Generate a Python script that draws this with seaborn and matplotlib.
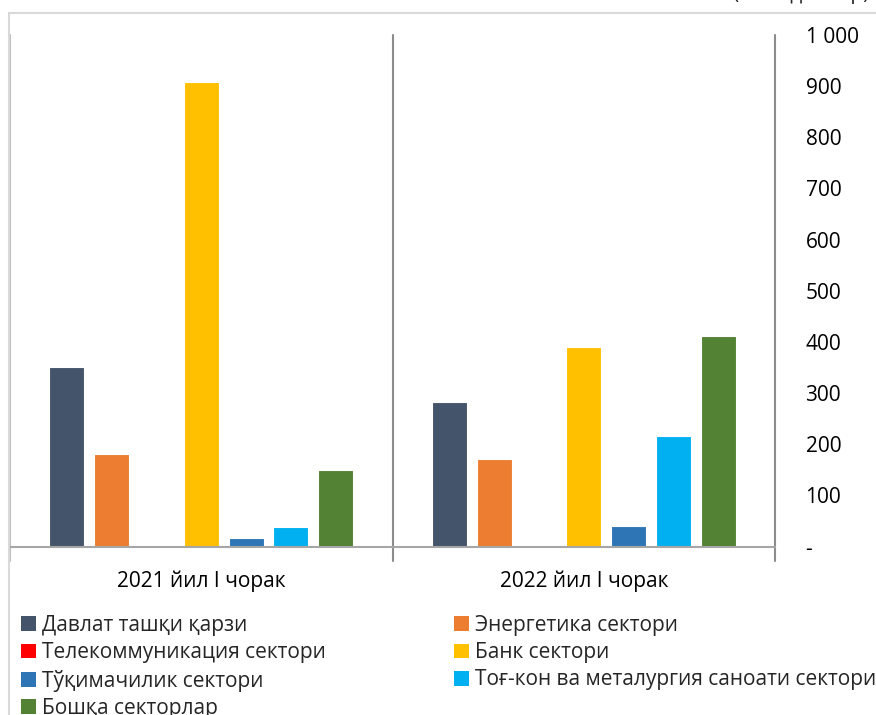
import pandas as pd
import seaborn as sns
import matplotlib.pyplot as plt
from matplotlib.patches import Patch, Rectangle

# data (млн. доллар)
periods = ["2021 йил I чорак", "2022 йил I чорак"]
sectors = [
    "Давлат ташқи қарзи",
    "Энергетика сектори",
    "Телекоммуникация сектори",
    "Банк сектори",
    "Тўқимачилик сектори",
    "Тоғ-кон ва металургия саноати сектори",
    "Бошқа секторлар",
]
values_2021 = [350, 180, 0, 909, 17, 38, 150]
values_2022 = [282, 171, 0, 390, 41, 217, 412]
colors = ["#44546A", "#ED7D31", "#FF0000", "#FFC000", "#2E75B6", "#00B0F0", "#548235"]
ytick_values = [0, 100, 200, 300, 400, 500, 600, 700, 800, 900, 1000]
ytick_labels = ["-", "100", "200", "300", "400", "500", "600", "700", "800", "900", "1 000"]
unit_label = "(млн. доллар)"

rows = []
for period, vals in zip(periods, [values_2021, values_2022]):
    for sector, v in zip(sectors, vals):
        rows.append({"period": period, "sector": sector, "value": v})
df = pd.DataFrame(rows)

sns.set_theme(style="white")
plt.rcParams["font.family"] = ["Open Sans", "DejaVu Sans"]
FS = 15

W, H = 876, 715
fig = plt.figure(figsize=(W / 100, H / 100), dpi=100)
ax = fig.add_axes([10 / W, 1 - 546.5 / H, (775 - 10) / W, (546.5 - 35) / H])

sns.barplot(data=df, x="period", y="value", hue="sector", order=periods,
            hue_order=sectors, palette=colors, width=0.82, gap=0.22,
            edgecolor="white", linewidth=0.8, saturation=1, legend=False, ax=ax)

ax.set_xlim(-0.5, 1.5)
ax.set_ylim(0, 1000)
ax.set_xlabel("")
ax.set_ylabel("")

# right-hand value axis, no tick marks
ax.yaxis.tick_right()
ax.set_yticks(ytick_values)
ax.set_yticklabels(ytick_labels, fontsize=FS, color="#000000")
for lbl in ax.get_yticklabels():
    lbl.set_horizontalalignment("left")
ax.tick_params(axis="y", length=0, pad=22)
ax.tick_params(axis="x", length=0, pad=17, labelsize=FS, labelcolor="#000000")

for s in ["top", "left", "right"]:
    ax.spines[s].set_visible(False)
ax.spines["bottom"].set_color("#A6A6A6")
ax.spines["bottom"].set_linewidth(1.5)

# category separators with tick marks below the baseline
below = 14 / 511.5
ax.axvline(-0.5, ymin=-below, ymax=1.0, color="#BFBFBF", lw=1.5, clip_on=False)
for xs in [0.5, 1.5]:
    ax.axvline(xs, ymin=-below, ymax=1.0, color="#8C8C8C", lw=1.5, clip_on=False)

# chart border (light gray), only top and left visible
fig.patches.append(Rectangle((8.5 / W, -0.1), 1.2, 1 - 13 / H + 0.1,
                             transform=fig.transFigure, fill=False,
                             edgecolor="#D9D9D9", lw=1.5))

# unit label, cut by the top edge as in the reference
fig.text(733 / W, 1 + 1.5 / H, unit_label, fontsize=FS, ha="left", va="baseline")

# legend in two columns, row-major order as in the reference
handles = [Patch(facecolor=c, edgecolor="none") for c in colors]
left_idx = [0, 2, 4, 6]
right_idx = [1, 3, 5]
leg_kw = dict(frameon=False, fontsize=FS, handlelength=0.7, handleheight=0.7,
              handletextpad=0.3, labelspacing=0.3, borderaxespad=0, borderpad=0,
              loc="upper left")
leg1 = fig.legend([handles[i] for i in left_idx], [sectors[i] for i in left_idx],
                  bbox_to_anchor=(21 / W, 1 - 615 / H), **leg_kw)
leg2 = fig.legend([handles[i] for i in right_idx], [sectors[i] for i in right_idx],
                  bbox_to_anchor=(454 / W, 1 - 615 / H), **leg_kw)

fig.savefig("out.png", dpi=100)
